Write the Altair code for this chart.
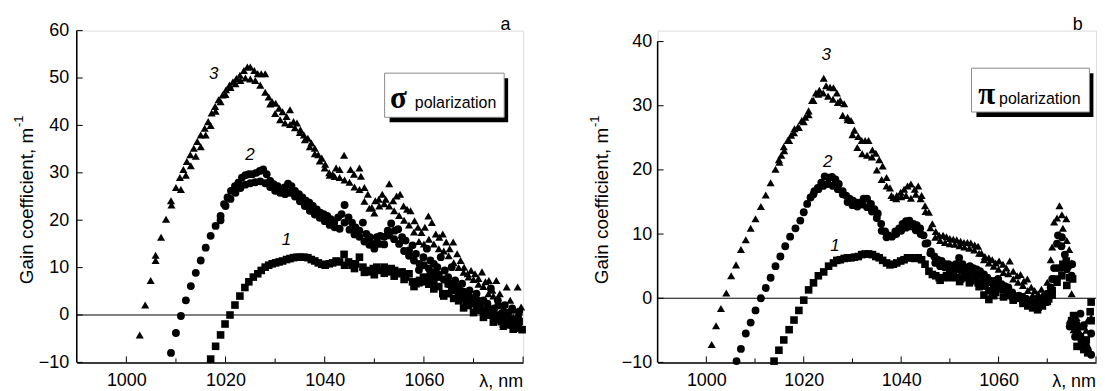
import altair as alt
import pandas as pd

FONT = "Liberation Sans"
SERIF = "Liberation Serif"

# ---------------- axes ----------------
X_DOMAIN = [990, 1080]
X_LABELS = [1000, 1020, 1040, 1060]
X_MAJOR = [1000, 1020, 1040, 1060, 1080]
X_MINOR = [1010, 1030, 1050, 1070]
Y_TICKS_A = [-10, 0, 10, 20, 30, 40, 50, 60]
Y_TICKS_B = [-10, 0, 10, 20, 30, 40]

# ---------------- panel a (sigma polarization) ----------------
A3 = [(1002.7, -4.2), (1003.8, 2.1), (1004.9, 7.3), (1005.9, 11.5), (1005.9, 12.6), (1007, 16.4),
      (1008, 20.2), (1009, 24.1), (1009.1, 23.2), (1010, 26.9), (1010.8, 29), (1011.5, 30.7),
      (1012.2, 32.4), (1012.9, 33.8), (1013.6, 35.2), (1014.3, 36.6), (1015, 38), (1015.8, 39.4),
      (1016.5, 40.8), (1017.2, 42.6), (1017.9, 44), (1018.6, 45.4), (1019.4, 46.4), (1020.1, 47.5),
      (1020.8, 48.5), (1021.5, 49.2), (1022.2, 49.9), (1022.9, 50.6), (1023.7, 51.6), (1024.4, 52.3),
      (1025, 52.3), (1025.8, 51.6), (1026.5, 50.9), (1027.2, 50.9), (1028, 50.9), (1028.7, 46),
      (1029.4, 45), (1030.1, 44.7), (1030.8, 43.6), (1031.5, 42.9), (1032.3, 41.9), (1033, 43.3),
      (1033.7, 40.8), (1034.4, 40.5), (1035.1, 39.1), (1035.8, 38), (1036.6, 37.3), (1037.3, 36.3),
      (1038, 35.2), (1038.7, 33.8), (1039.4, 33.1), (1040.1, 31.8), (1040.9, 30), (1041.6, 29.7),
      (1042.3, 31), (1043, 30.7), (1043.9, 33.7), (1045.2, 30.7), (1045.9, 29.7), (1047, 31),
      (1047.3, 29.3), (1048, 26.9), (1048.7, 25.5), (1049.5, 22.7), (1050.2, 24.1), (1050.9, 24.4),
      (1051.6, 25.5), (1052.3, 24.4), (1053, 27.7), (1053.8, 24.1), (1054.5, 25.1), (1055.2, 25.5),
      (1055.9, 23), (1056.6, 22.3), (1057.3, 22), (1058.1, 19.9), (1058.8, 18.5), (1059.5, 17.4),
      (1060.2, 18.5), (1060.9, 20.9), (1061.6, 19.5), (1062.4, 17.1), (1063.1, 16.4), (1063.8, 17.1),
      (1064.5, 15.4), (1065.2, 14), (1065.9, 15.4), (1066.7, 12.9), (1067.4, 11.5), (1068.1, 10.1),
      (1068.8, 8.7), (1069.5, 9.4), (1070.3, 8.7), (1071, 7.7), (1071.7, 9.1), (1072.4, 7),
      (1073.1, 7.3), (1073.8, 5.2), (1074.6, 7.3), (1075.3, 4.5), (1076, -2.4), (1076.7, 5.9),
      (1077.4, 3.1), (1078.1, 1), (1078.9, 5.9), (1079.6, 1.7)]
A3b = [(1011, 26.5), (1012, 29.5), (1013, 31.5), (1014, 33.5), (1015, 35.5), (1016, 38), (1017, 40),
       (1018, 43), (1019, 45), (1020, 46.5), (1021, 48), (1022, 48.8), (1023, 49.5), (1024, 50),
       (1025, 49.8), (1026, 49.5), (1027, 48.5), (1028, 47), (1029, 44.5), (1030, 42.5), (1031, 41.2),
       (1032, 40.5), (1033, 40.2), (1034, 39.5), (1035, 38.5), (1036, 37), (1037, 35.5), (1038, 34),
       (1039, 32.5), (1040, 31), (1041, 29.5), (1042, 29.2), (1043, 29), (1044, 28.5), (1045, 28),
       (1046, 27), (1047, 26.5), (1048, 24), (1049, 22.5), (1050, 21.5), (1051, 23), (1052, 23.5),
       (1053, 23), (1054, 22), (1055, 21), (1056, 20), (1057, 19), (1058, 17.5), (1059, 15.5),
       (1060, 15), (1061, 16), (1062, 15), (1063, 14), (1064, 13.5), (1065, 12.5), (1066, 11),
       (1067, 10), (1068, 9), (1069, 8), (1070, 7.5), (1071, 6.5), (1072, 6), (1073, 4.5), (1074, 4),
       (1075, 2.5), (1076, 1.5), (1077, 0.5), (1078, -0.5), (1079, -1.5)]
A2 = [(1009, -8), (1010, -3.8), (1011, -0.2), (1012, 3.1), (1013, 6.1), (1014, 8.9), (1015, 11.5),
      (1016, 14.2), (1017, 16.7), (1018, 18.8), (1019, 20.9), (1019.7, 23.4), (1020.4, 24.8),
      (1021.1, 26.2), (1021.9, 27.2), (1022.6, 27.9), (1023.3, 29), (1024, 29.5), (1024.7, 29.7),
      (1025.4, 29.7), (1026.2, 30), (1026.9, 30.4), (1027.6, 30.7), (1028.3, 29.7), (1029, 28.3),
      (1029.7, 27.6), (1030.5, 27.2), (1031.2, 26.5), (1031.9, 26.9), (1032.6, 27.7), (1033.3, 27.2),
      (1034, 26.2), (1034.8, 25.5), (1035.5, 24.8), (1036.2, 24.1), (1036.9, 23.7), (1037.6, 23),
      (1038.4, 22.3), (1039.1, 21.6), (1039.8, 21.3), (1040.5, 20.9), (1041.2, 20.2), (1041.9, 19.5),
      (1042.7, 20.6), (1043.4, 21.3), (1044, 23.2), (1044.8, 20.6), (1045.5, 19.5), (1046.2, 18.5),
      (1047, 17.8), (1047.7, 19.5), (1048.4, 17.1), (1049.1, 16.4), (1049.8, 15), (1050.5, 16.4),
      (1051.2, 16.7), (1052, 14.9), (1052.7, 17.8), (1053.4, 19.3), (1054.1, 17.8), (1054.8, 18.1),
      (1055.6, 16.4), (1056.3, 15.7), (1057, 13.6), (1057.7, 14.7), (1058.4, 12.9), (1059.1, 10.8),
      (1059.9, 12.2), (1060.6, 14), (1061.3, 11.5), (1062, 10.8), (1062.7, 10.1), (1063.4, 12.2),
      (1064.2, 9.4), (1064.9, 8), (1065.6, 10.1), (1066.3, 7.3), (1067, 5.9), (1067.7, 6.6),
      (1068.5, 4.5), (1069.2, 5.2), (1069.9, 3.5), (1070.6, 4.5), (1071.3, 1.7), (1072, 3.1),
      (1072.8, 2.4), (1073.5, 5.6), (1074.2, 1.4), (1074.9, 3.1), (1075.6, 0.3), (1076.3, 2.1),
      (1077, -1), (1077.8, 1.4), (1078.5, -1.7), (1079.2, 0.7)]
A2b = [(1019, 20), (1020, 23), (1021, 24.5), (1022, 25.8), (1023, 26.8), (1024, 27.5), (1025, 27.8),
       (1026, 28), (1027, 28.2), (1028, 27.8), (1029, 27), (1030, 26.2), (1031, 25.8), (1032, 25.5),
       (1033, 25.8), (1034, 25), (1035, 24), (1036, 23), (1037, 22), (1038, 21.2), (1039, 20.5),
       (1040, 19.8), (1041, 19), (1042, 18.5), (1043, 18.2), (1044, 19.5), (1045, 18), (1046, 17),
       (1047, 16.5), (1048, 15.5), (1049, 14.8), (1050, 14), (1051, 15), (1052, 16.5), (1053, 16.8),
       (1054, 16), (1055, 15), (1056, 13.5), (1057, 12.5), (1058, 11.5), (1059, 9.5), (1060, 10.5),
       (1061, 9.8), (1062, 9), (1063, 8.5), (1064, 7.5), (1065, 6.5), (1066, 6), (1067, 5),
       (1068, 3.5), (1069, 4), (1070, 2.5), (1071, 3), (1072, 0.8), (1073, 1.5), (1074, 0), (1075, 2),
       (1076, -1.5), (1077, 0.5), (1078, -2.5), (1079, -0.5)]
A1 = [(1017, -9.3), (1018, -6.6), (1019, -4.2), (1019.9, -1.9), (1020.9, 0), (1021.9, 2.1), (1022.9, 4),
      (1023.9, 5.8), (1024.7, 7), (1025.6, 8), (1026.5, 8.7), (1027.2, 9.4), (1028, 10.1),
      (1028.7, 10.5), (1029.4, 10.8), (1030.1, 11), (1030.8, 11.2), (1031.5, 11.4), (1032.3, 11.7),
      (1033, 11.9), (1033.7, 12.1), (1034.4, 12.2), (1035.1, 12.2), (1035.8, 12.2), (1036.6, 12.1),
      (1037.3, 11.7), (1038, 11.4), (1038.7, 11), (1039.4, 10.7), (1040.1, 10.5), (1040.9, 10.8),
      (1041.6, 11), (1042.3, 11.4), (1043, 11.2), (1043.9, 12.8), (1044.8, 11.2), (1045.5, 10.5),
      (1046.2, 10.8), (1047, 12.2), (1047.7, 10.1), (1048.4, 9.4), (1049.1, 9.1), (1049.8, 9.8),
      (1050.5, 10.1), (1051.2, 9.4), (1052, 10.1), (1052.7, 9.1), (1053.4, 9.8), (1054.1, 9.4),
      (1054.8, 8.7), (1055.6, 9.1), (1056.3, 8), (1057, 8.7), (1057.7, 7), (1058.4, 6.6),
      (1059.1, 7.3), (1059.9, 8), (1060.6, 7.7), (1061.3, 8.4), (1062, 7), (1062.7, 8), (1063.8, 4.5),
      (1064.9, 6.6), (1065.6, 5.2), (1066.3, 5.9), (1067, 4.5), (1067.7, 4.9), (1068.5, 2.1),
      (1069.2, 3.5), (1069.9, 2.8), (1070.6, 1.4), (1071.3, 2.4), (1072, 1), (1072.8, 0), (1073.5, 1),
      (1074.2, -0.7), (1074.9, 0), (1075.6, -1.4), (1076.3, -0.3), (1077, -2.1), (1077.8, -1),
      (1078.5, -2.8), (1079.2, -1.4), (1079.8, -3.1)]
A1b = [(1044, 10.5), (1046, 9.8), (1048, 9), (1050, 8.5), (1052, 8.8), (1054, 8.2), (1056, 7.5),
       (1058, 6), (1059, 6.8), (1060, 7), (1061, 6.5), (1062, 5.5), (1063, 6), (1064, 4), (1065, 4.5),
       (1066, 3.5), (1067, 3), (1068, 1.5), (1069, 2), (1070, 0.5), (1071, 1), (1072, -0.5), (1073, 0),
       (1074, -1.5), (1075, -1), (1076, -2), (1077, -1), (1078, -3), (1079, -2.5)]
A_CURVE_LABELS = [("3", 1017.6, 50.9), ("2", 1024.9, 33.7), ("1", 1032.3, 15.8)]

# ---------------- panel b (pi polarization) ----------------
B3 = [(1001.1, -7.2), (1002, -4.3), (1003, -1.6), (1004.1, 0.8), (1005.1, 3.5), (1006.1, 5.2),
      (1007.1, 7.6), (1008.1, 9.1), (1009.1, 10.9), (1010.1, 12.4), (1011.2, 14.3), (1012.2, 16.1),
      (1013.2, 18), (1014.2, 20.1), (1014.9, 21.6), (1015.4, 22.3), (1015.9, 23.6), (1016.7, 24.6),
      (1017.4, 25.4), (1018.1, 26.4), (1018.8, 26.7), (1019.6, 27.7), (1020.3, 28.2), (1021, 29.2),
      (1021.7, 30.8), (1022.5, 32), (1023.2, 32.4), (1024.1, 34.3), (1024.6, 33.1), (1025.4, 32.9),
      (1026.1, 32.8), (1026.8, 32), (1027.5, 30.8), (1028.3, 30.3), (1029, 28.2), (1029.7, 27.7),
      (1030.4, 26.2), (1031.2, 25.2), (1031.9, 24.6), (1032.6, 24.6), (1033.3, 24.6), (1034.1, 23.1),
      (1034.8, 22.6), (1035.5, 21.6), (1036.2, 20.6), (1037, 18.8), (1037.7, 17.2), (1038.4, 15.7),
      (1039.1, 16), (1039.9, 16.5), (1040.6, 17), (1041.3, 17.5), (1042, 17.8), (1042.8, 17),
      (1043.5, 17.5), (1044.2, 16), (1044.9, 14.4), (1045.7, 13.4), (1046.4, 11.6), (1047.1, 10.4),
      (1047.8, 9.8), (1048.6, 9.8), (1049.3, 9.6), (1050, 9.3), (1050.7, 9.2), (1051.4, 9.1),
      (1052.2, 8.9), (1052.9, 8.7), (1053.6, 8.7), (1054.3, 8.6), (1055.1, 8.3), (1055.8, 8.1),
      (1056.5, 7), (1057.2, 6.5), (1058, 6.3), (1058.7, 6), (1059.4, 5.5), (1060.1, 5.8),
      (1060.9, 5.3), (1061.6, 4.7), (1062.3, 5.8), (1063, 4.2), (1063.8, 3.5), (1064.5, 3.7),
      (1065.2, 2.7), (1065.9, 3), (1066.7, 1.7), (1067.4, 1.2), (1068.1, 0.7), (1068.8, 1.4),
      (1069.6, 0.7), (1070.3, 1.2), (1070.7, 6), (1071.4, 11.9), (1072.5, 14.4), (1073.2, 10.9),
      (1073.9, 12.4), (1074.5, 7.6), (1075, 0.7), (1074.6, -3.4), (1075.4, -4.9), (1076.1, -3.9),
      (1076.8, -5.5), (1077.5, -7), (1078.3, -3.4)]
B3b = [(1015, 21.2), (1016, 23), (1017, 24.6), (1018, 25.8), (1019, 26.6), (1020, 27.5), (1021, 28.6),
       (1022, 30.8), (1023, 31.8), (1024, 32), (1025, 31.5), (1026, 31), (1027, 30.5), (1028, 28.5),
       (1029, 27.8), (1030, 25.5), (1031, 23.5), (1032, 22.5), (1033, 22.3), (1034, 22), (1035, 20),
       (1036, 18.5), (1037, 17.5), (1038, 16), (1039, 15.5), (1040, 15.8), (1041, 16), (1042, 15.6),
       (1043, 16.2), (1044, 15.5), (1045, 13.5), (1046, 11), (1047, 9.5), (1048, 9), (1049, 8.7),
       (1050, 8.5), (1051, 8.4), (1052, 8.2), (1053, 8), (1054, 7.8), (1055, 7.5), (1056, 7),
       (1057, 6), (1058, 5.5), (1059, 5), (1060, 4.5), (1061, 4), (1062, 3.8), (1063, 3), (1064, 2.5),
       (1065, 2), (1066, 1.2), (1067, 0.5), (1068, 0), (1069, 0.5), (1070, 2.5), (1071, 8),
       (1072, 12.5), (1073, 13), (1074, 9), (1075, 5.5), (1076, -3), (1077, -4.5), (1078, -5),
       (1079, -3)]
B2 = [(1006.2, -9.8), (1007.1, -7.9), (1008.1, -5.5), (1009.1, -3.8), (1010.1, -1.9), (1011.2, 0),
      (1012.2, 1.6), (1013.2, 3.2), (1014.2, 5), (1015.2, 6.5), (1016.2, 8.1), (1017.2, 9.6),
      (1018.3, 10.9), (1019.3, 12.1), (1020, 13.4), (1020.7, 14.7), (1021.4, 15.7), (1022.2, 16.7),
      (1022.9, 17.2), (1023.6, 18), (1024.3, 19), (1025.1, 18.8), (1025.8, 18.9), (1026.5, 18.5),
      (1027.2, 17.8), (1028, 16.7), (1028.7, 16), (1029.4, 15.5), (1030.1, 15.2), (1030.9, 14.9),
      (1031.6, 14.9), (1032.3, 15.5), (1033, 15.5), (1033.8, 14.7), (1034.5, 13.9), (1035.2, 13.2),
      (1035.9, 11.6), (1036.7, 10.4), (1037.4, 9.8), (1038.1, 9.6), (1038.8, 10.4), (1039.6, 10.9),
      (1040.3, 11.6), (1041, 12), (1041.7, 12.1), (1042.5, 11.6), (1043.2, 11.4), (1043.9, 10.9),
      (1044.6, 9.8), (1045.4, 8.6), (1046.1, 7.3), (1046.8, 6.5), (1047.5, 6), (1048.3, 5.8),
      (1049, 5.3), (1049.7, 5.3), (1050.4, 5), (1051.2, 5.3), (1051.9, 6.3), (1052.6, 5.3),
      (1053.3, 4.7), (1054.1, 5), (1054.8, 4.7), (1055.5, 4.5), (1056.2, 4.2), (1057, 3.7),
      (1057.7, 3.2), (1058.4, 2.7), (1059.1, 2.7), (1059.9, 3), (1060.6, 2.2), (1061.3, 1.9),
      (1062, 1.7), (1062.8, 0.9), (1063.5, 0.2), (1064.2, 0.4), (1064.9, 0.2), (1065.7, -0.1),
      (1066.4, -0.4), (1067.1, -0.6), (1067.8, -0.9), (1068.6, -0.4), (1069.3, -0.1), (1070, 0.7),
      (1070.7, 1.7), (1071.4, 4.7), (1072.2, 9.8), (1072.9, 8.1), (1073.6, 6.8), (1074.3, 5),
      (1075.1, 5.3), (1074.6, -4.4), (1075.7, -6), (1076.8, -2.4), (1077.5, -4.2), (1078.3, -8),
      (1079, -5.5)]
B2b = [(1022, 16.2), (1023, 17), (1024, 17.5), (1025, 17.8), (1026, 17.5), (1027, 17), (1028, 16.2),
       (1029, 15), (1030, 14.5), (1031, 14.3), (1032, 14.6), (1033, 14.2), (1034, 13.5), (1035, 12.5),
       (1036, 10.5), (1037, 9.5), (1039, 10), (1040, 10.5), (1041, 11), (1042, 11.2), (1043, 10.6),
       (1044, 10), (1045, 8.5), (1046, 7), (1047, 5.5), (1048, 5), (1049, 4.8), (1050, 4.6),
       (1051, 4.8), (1052, 4.4), (1053, 4.2), (1054, 4.3), (1055, 4), (1056, 3.6), (1057, 3.2),
       (1058, 2.5), (1059, 2), (1060, 1.8), (1061, 1.5), (1062, 1.2), (1063, 0.5), (1064, 0),
       (1065, -0.5), (1066, -0.8), (1067, -1), (1068, -1.2), (1069, -0.5), (1070, 0.2), (1071, 3),
       (1072, 8.5), (1073, 9.5), (1074, 4.5), (1075, 3.5), (1076, -4), (1077, -6.5), (1078, -7.5),
       (1079, -8.8)]
B1 = [(1013.9, -9.8), (1014.9, -8.1), (1015.9, -6.5), (1017, -4.9), (1018, -3.4), (1019, -1.9),
      (1020, -0.3), (1021, 1.3), (1022, 2.4), (1023, 3.5), (1024.1, 4.1), (1025.1, 5), (1026.1, 5.5),
      (1026.8, 5.9), (1027.5, 6), (1028.3, 6.2), (1029, 6.3), (1029.7, 6.3), (1030.4, 6.4),
      (1031.2, 6.5), (1031.9, 6.8), (1032.6, 6.9), (1033.3, 6.9), (1034.1, 6.8), (1034.8, 6.5),
      (1035.5, 6.3), (1036.2, 5.9), (1037, 5.5), (1037.7, 5.2), (1038.4, 5.3), (1039.1, 5.5),
      (1039.9, 5.8), (1040.6, 6), (1041.3, 6.3), (1042, 6.3), (1042.8, 6.2), (1043.5, 6.3), (1044.2, 6),
      (1044.9, 5.3), (1045.7, 4.2), (1046.4, 3.7), (1047.1, 3.5), (1047.8, 3.2), (1048.6, 3.2),
      (1049.3, 3.5), (1050, 4), (1050.7, 3.7), (1051.4, 3.2), (1052.2, 3), (1052.9, 3.5), (1053.6, 3.2),
      (1054.3, 2.7), (1055.1, 3), (1055.8, 2.4), (1056.5, 2.2), (1057.2, 1.9), (1058, 1.2),
      (1058.7, 0.7), (1059.4, 0.9), (1060.1, 1.7), (1060.9, 1.4), (1061.6, 0.7), (1062.3, 0.4),
      (1063, 0.2), (1063.8, 0), (1064.5, 0.2), (1065.2, -0.1), (1065.9, -0.6), (1066.7, -0.9),
      (1067.4, -1.1), (1068.1, -1.4), (1068.8, -0.9), (1069.6, -0.6), (1070.3, -0.1), (1071, 1.2),
      (1071.7, 3), (1072.5, 4.7), (1073.2, 5.3), (1073.9, 5.8), (1074.6, 3.2), (1075.2, 3),
      (1075.4, -2.7), (1076.1, -7.5), (1076.8, -6), (1077.5, -8), (1078.3, -8.5), (1078.8, -2.1),
      (1079, -0.6)]
B1b = [(1048, 2.8), (1050, 3.2), (1052, 2.6), (1054, 2.4), (1056, 1.8), (1057, 0.5), (1058, -0.2),
       (1059, 0.4), (1061, 0.2), (1063, -0.3), (1065, -0.8), (1066, -1.2), (1067, -1.5), (1068, -1.8),
       (1069, -1.2), (1070, -0.5), (1071, 0.5), (1072, 2.5), (1073, 3.5), (1074, 2), (1075, -3.5),
       (1076, -5), (1077, -7.5), (1078, -6.5), (1079, -3.5)]
B_CURVE_LABELS = [("3", 1024.6, 37.9), ("2", 1024.9, 21.3), ("1", 1026.4, 8.1)]

SERIES_NAMES = ["1", "2", "3"]
SHAPES = ["square", "circle", "triangle-up"]
SIZES = [58, 66, 95]

H = 333
ONE = pd.DataFrame({"k": [0]})


def points_frame(groups):
    rows = []
    for name, pts in groups:
        for x, y in pts:
            rows.append({"x": x, "y": y, "s": name})
    return pd.DataFrame(rows)


def panel(W, y_top, y_ticks, groups, curve_labels, letter, letter_x, greek, box, txt, title_x, sup_x,
          ylab_pad):
    xs = alt.Scale(domain=X_DOMAIN, nice=False, zero=False)
    ys = alt.Scale(domain=[-10, y_top], nice=False, zero=False)
    x_axis = alt.Axis(values=X_LABELS, format="d", ticks=False, tickSize=0, grid=False, title=None,
                      labelFont=FONT, labelFontSize=18, labelColor="black", labelPadding=9,
                      domainColor="black", domainWidth=1.5)
    y_axis = alt.Axis(values=y_ticks, format="d", ticks=False, tickSize=0, grid=False, domain=False,
                      title=None, labelFont=FONT, labelFontSize=18, labelColor="black",
                      labelPadding=ylab_pad)

    def X(f="x:Q"):
        return alt.X(f, scale=xs, axis=x_axis)

    def Y(f="y:Q"):
        return alt.Y(f, scale=ys, axis=y_axis)

    pts = alt.Chart(points_frame(groups)).mark_point(filled=True, opacity=1, color="black").encode(
        x=X(), y=Y(),
        shape=alt.Shape("s:N", scale=alt.Scale(domain=SERIES_NAMES, range=SHAPES), legend=None),
        size=alt.Size("s:N", scale=alt.Scale(domain=SERIES_NAMES, range=SIZES), legend=None),
    )
    zero = alt.Chart(pd.DataFrame({"y": [0]})).mark_rule(color="black", strokeWidth=1).encode(y=Y())
    ydom = alt.Chart(pd.DataFrame({"y": [-10], "y2": [y_ticks[-1]]})).mark_rule(
        color="black", strokeWidth=1.5).encode(x=alt.value(0), y=Y(), y2="y2:Q")
    xmaj = alt.Chart(pd.DataFrame({"x": X_MAJOR})).mark_rule(color="black", strokeWidth=1).encode(
        x=X(), y=alt.value(H), y2=alt.value(H - 6))
    xmin = alt.Chart(pd.DataFrame({"x": X_MINOR})).mark_rule(color="black", strokeWidth=1).encode(
        x=X(), y=alt.value(H), y2=alt.value(H - 4))
    yt = alt.Chart(pd.DataFrame({"y": y_ticks})).mark_rule(color="black", strokeWidth=1).encode(
        x=alt.value(0), x2=alt.value(6), y=Y())

    cl = pd.DataFrame(curve_labels, columns=["t", "x", "y"])
    clab = alt.Chart(cl).mark_text(font=FONT, fontSize=17, fontStyle="italic", color="black",
                                   baseline="middle").encode(x=X(), y=Y(), text="t:N")

    bx0, by0, bx1, by1 = box
    shadow = alt.Chart(ONE).mark_rect(color="black").encode(
        x=alt.value(bx0 + 5), x2=alt.value(bx1 + 4), y=alt.value(by0 + 5), y2=alt.value(by1 + 5))
    frame_ = alt.Chart(ONE).mark_rect(color="white", stroke="#8c8c8c", strokeWidth=1).encode(
        x=alt.value(bx0), x2=alt.value(bx1), y=alt.value(by0), y2=alt.value(by1))
    gx, px, base = txt
    gk = alt.Chart(ONE).mark_text(text=greek, font=SERIF, fontSize=31, fontWeight="bold",
                                  color="black", align="left", baseline="alphabetic").encode(
        x=alt.value(gx), y=alt.value(base))
    pol = alt.Chart(ONE).mark_text(text="polarization", font=FONT, fontSize=16, color="black",
                                   align="left", baseline="alphabetic").encode(
        x=alt.value(px), y=alt.value(base))

    let = alt.Chart(ONE).mark_text(text=letter, font=FONT, fontSize=18, color="black", align="center",
                                   baseline="alphabetic").encode(x=alt.value(letter_x), y=alt.value(-0.7))
    lam = alt.Chart(ONE).mark_text(text="λ, nm", font=FONT, fontSize=18, color="black", align="right",
                                   baseline="alphabetic").encode(x=alt.value(W), y=alt.value(H + 24.5))
    ttl = alt.Chart(ONE).mark_text(text="Gain coefficient, m", font=FONT, fontSize=19, color="black",
                                   angle=270, align="center", baseline="alphabetic").encode(
        x=alt.value(title_x), y=alt.value(176))
    sup = alt.Chart(ONE).mark_text(text="-1", font=FONT, fontSize=13, color="black", angle=270,
                                   align="center", baseline="alphabetic").encode(
        x=alt.value(sup_x), y=alt.value(91))

    return alt.layer(zero, pts, ydom, xmaj, xmin, yt, clab, shadow, frame_, gk, pol, let, lam, ttl,
                     sup).properties(width=W, height=H)


left = panel(448, 60.0, Y_TICKS_A,
             [("3", A3), ("3", A3b), ("2", A2), ("2", A2b), ("1", A1), ("1", A1b)],
             A_CURVE_LABELS, "a", 430.3, "σ",
             (309, 42.7, 429, 87), (314.3, 339.3, 77.7), -43.7, -54.4, 8)
right = panel(440, -10 + H / 6.44, Y_TICKS_B,
              [("3", B3), ("3", B3b), ("2", B2), ("2", B2b), ("1", B1), ("1", B1b)],
              B_CURVE_LABELS, "b", 421.7, "π",
              (315, 37.7, 433.4, 81.7), (321.7, 342.7, 73.7), -49.9, -59.3, 6)

chart = alt.hconcat(left, right, spacing=61).properties(
    padding={"left": 4, "top": 6, "right": 0, "bottom": 0}
).configure_view(stroke=None).configure(background="white")

chart.save("out.html", embed_options={"renderer": "svg", "actions": False})
